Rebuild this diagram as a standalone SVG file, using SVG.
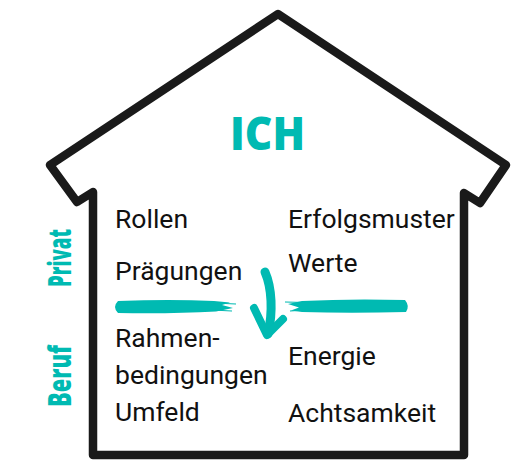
<svg xmlns="http://www.w3.org/2000/svg" width="525" height="466" viewBox="0 0 525 466">
<style>
.body{font-family:Roboto,"Liberation Sans",sans-serif;font-size:26.5px;fill:#111;}
.lbl{font-family:"Open Sans","Liberation Sans",sans-serif;font-weight:800;fill:#00bab2;}
.brush{fill:#00bab2;}
.streak{stroke:#00bab2;stroke-width:1.2;fill:none;}
</style>
<rect width="525" height="466" fill="#fff"/>
<g id="house">
<path d="M 93 192 L 77 202 L 50 165 L 278 14 L 506 165 L 480 203 L 464 193 L 464 455 L 93 455 Z" fill="none" stroke="#1a1a1a" stroke-width="8.5" stroke-linejoin="round"/>
</g>
<g id="ich"><text class="lbl" x="230" y="150" font-size="46" font-weight="bold" textLength="75" lengthAdjust="spacingAndGlyphs">ICH</text></g>
<g id="privat"><text class="lbl" font-size="31" transform="translate(71 287) rotate(-90)" textLength="58" lengthAdjust="spacingAndGlyphs">Privat</text></g>
<g id="beruf"><text class="lbl" font-size="31" transform="translate(71 407) rotate(-90)" textLength="62" lengthAdjust="spacingAndGlyphs">Beruf</text></g>
<g id="left-col">
<text class="body" x="115" y="228">Rollen</text>
<text class="body" x="115" y="280">Prägungen</text>
<text class="body" x="115" y="346.5">Rahmen-</text>
<text class="body" x="115" y="384">bedingungen</text>
<text class="body" x="115" y="420.5">Umfeld</text>
</g>
<g id="right-col">
<text class="body" x="288" y="227.5">Erfolgsmuster</text>
<text class="body" x="288" y="271.5">Werte</text>
<text class="body" x="288" y="365">Energie</text>
<text class="body" x="288" y="421.5">Achtsamkeit</text>
</g>
<g id="divider-left">
<path class="brush" d="M 118 301 Q 170 299 214 301 L 230 302.5 L 222 305 L 233 308 L 216 311.5 Q 170 314 118 313 Q 112 307 118 301 Z"/>
<path class="streak" d="M 214 303 L 236 304 M 212 310 L 232 311"/>
</g>
<g id="divider-right">
<path class="brush" d="M 405 300 Q 410 306 406 312 Q 350 313.5 302 312 L 291 310.5 L 299 307.5 L 288 304 L 302 301 Q 350 298.5 405 300 Z"/>
<path class="streak" d="M 285 302 L 305 302.5 M 290 311 L 306 310"/>
</g>
<g id="connectors">
<path d="M 265 272 C 272 288 273 312 268 334" fill="none" stroke="#00bab2" stroke-width="9" stroke-linecap="round"/>
<path d="M 254 308 L 267 335 L 283 319" fill="none" stroke="#00bab2" stroke-width="8" stroke-linecap="round" stroke-linejoin="round"/>
</g>
</svg>
